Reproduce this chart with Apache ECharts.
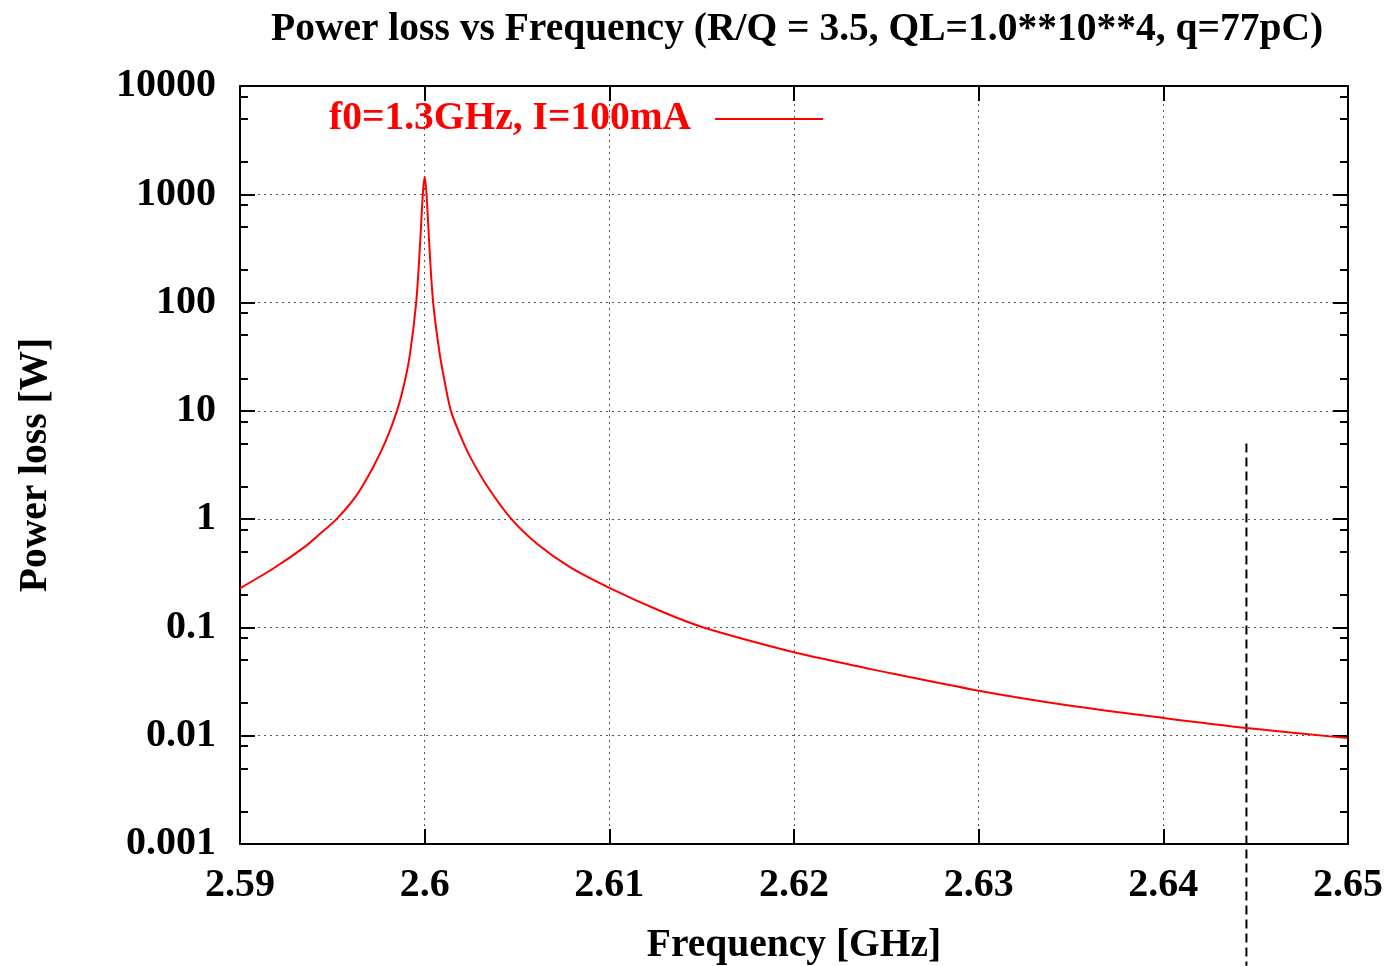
<!DOCTYPE html>
<html>
<head>
<meta charset="utf-8">
<script src="https://cdn.jsdelivr.net/npm/echarts@6/dist/echarts.min.js"></script>
<style>
html,body{margin:0;padding:0;background:#fff;}
#chart{width:1392px;height:966px;}
</style>
</head>
<body>
<div id="chart"></div>
<script>
// ---- data ----
const freq = [2.59, 2.5918, 2.5936, 2.5942, 2.5952, 2.5963, 2.5972, 2.5979, 2.5985, 2.5989, 2.5992, 2.59954, 2.59973, 2.5999,
  2.6, 2.6001, 2.60027, 2.60046, 2.60082, 2.6011, 2.60142, 2.6019, 2.60245, 2.6034, 2.6047, 2.6061, 2.60787,
  2.61, 2.6128, 2.6151, 2.62, 2.623, 2.6242, 2.63, 2.6348, 2.64, 2.6445, 2.65];
const powerLoss = [0.23, 0.35, 0.57, 0.70, 0.99, 1.65, 3.0, 5.3, 10, 18, 33, 100, 300, 1000,
  1450, 1000, 300, 100, 33, 18, 10, 6.1, 3.8, 2.0, 1.0, 0.59, 0.36,
  0.232, 0.141, 0.1, 0.059, 0.0455, 0.041, 0.026, 0.0191, 0.0146, 0.0118, 0.0095];
const markerFreq = [2.6445, 2.6445];
const markerPower = [5, 0.000075];
const xTickValues = [2.59, 2.6, 2.61, 2.62, 2.63, 2.64, 2.65];
const xTickLabels = ['2.59', '2.6', '2.61', '2.62', '2.63', '2.64', '2.65'];
const yTickValues = [0.001, 0.01, 0.1, 1, 10, 100, 1000, 10000];
const yTickLabels = ['0.001', '0.01', '0.1', '1', '10', '100', '1000', '10000'];
const yMinorTicks = [0.002, 0.005, 0.008, 0.02, 0.05, 0.08, 0.2, 0.5, 0.8, 2, 5, 8, 20, 50, 80, 200, 500, 800, 2000, 5000, 8000];
const seriesName = 'f0=1.3GHz, I=100mA';
const titleText = 'Power loss vs Frequency (R/Q = 3.5, QL=1.0**10**4, q=77pC)';

const FONT = '"Liberation Serif", "DejaVu Serif", serif';
const FS = 39.5;
const FS_TICK = 40;

function lookupLabel(values, labels) {
  return function (v) {
    for (let i = 0; i < values.length; i++) {
      if (Math.abs(values[i] - v) < Math.abs(values[i]) * 1e-6 + 1e-9) return labels[i];
    }
    return '';
  };
}

const curveData = freq.map((f, i) => [f, powerLoss[i]]);
const markerData = markerFreq.map((f, i) => [f, markerPower[i]]);

const chart = echarts.init(document.getElementById('chart'), null, {renderer: 'canvas'});

const logAxisBase = {type: 'log', logBase: 10, min: 0.001, max: 10000};

const option = {
  backgroundColor: '#ffffff',
  animation: false,
  title: {
    text: titleText,
    left: 266, top: 5,
    textStyle: {fontFamily: FONT, fontWeight: 'bold', fontSize: FS, color: '#000'}
  },
  legend: {
    data: [{name: seriesName, icon: 'rect'}],
    left: 324, top: 94,
    align: 'right',
    itemWidth: 108, itemHeight: 2,
    textStyle: {fontFamily: FONT, fontWeight: 'bold', fontSize: FS, color: '#ff0000', padding: [0, 19, 0, 0]},
    selectedMode: false
  },
  grid: {left: 240, right: 44, top: 86, bottom: 122, containLabel: false, outerBoundsMode: 'none'},
  xAxis: [
    {
      type: 'value', min: 2.59, max: 2.65, interval: 0.01, position: 'bottom',
      name: 'Frequency [GHz]', nameLocation: 'middle', nameGap: 82,
      nameTextStyle: {fontFamily: FONT, fontWeight: 'bold', fontSize: FS, color: '#000'},
      axisLine: {show: true, lineStyle: {color: '#000', width: 2}},
      axisTick: {show: true, inside: true, length: 15, lineStyle: {color: '#000', width: 2}},
      axisLabel: {formatter: lookupLabel(xTickValues, xTickLabels), fontFamily: FONT, fontWeight: 'bold', fontSize: FS_TICK, color: '#000', margin: 22},
      splitLine: {show: true, lineStyle: {color: '#555', width: 1, type: [2, 4]}}
    },
    {
      type: 'value', min: 2.59, max: 2.65, interval: 0.01, position: 'top',
      axisLine: {show: true, lineStyle: {color: '#000', width: 2}},
      axisTick: {show: true, inside: true, length: 15, lineStyle: {color: '#000', width: 2}},
      axisLabel: {show: false},
      splitLine: {show: false}
    }
  ],
  yAxis: [
    Object.assign({}, logAxisBase, {
      position: 'left',
      name: 'Power loss [W]', nameLocation: 'middle', nameGap: 184, nameRotate: 90,
      nameTextStyle: {fontFamily: FONT, fontWeight: 'bold', fontSize: FS, color: '#000'},
      axisLine: {show: true, lineStyle: {color: '#000', width: 2}},
      axisTick: {show: true, inside: true, length: 15, lineStyle: {color: '#000', width: 2}},
      axisLabel: {formatter: lookupLabel(yTickValues, yTickLabels), fontFamily: FONT, fontWeight: 'bold', fontSize: FS_TICK, color: '#000', margin: 24},
      splitLine: {show: true, lineStyle: {color: '#555', width: 1, type: [2, 4]}}
    }),
    Object.assign({}, logAxisBase, {
      position: 'right',
      axisLine: {show: true, lineStyle: {color: '#000', width: 2}},
      axisTick: {show: true, inside: true, length: 15, lineStyle: {color: '#000', width: 2}},
      axisLabel: {show: false},
      splitLine: {show: false}
    }),
    Object.assign({}, logAxisBase, {
      position: 'left', offset: 0,
      axisLine: {show: false},
      axisTick: {show: true, inside: true, length: 8, customValues: yMinorTicks, lineStyle: {color: '#000', width: 2}},
      axisLabel: {show: false},
      splitLine: {show: false}
    }),
    Object.assign({}, logAxisBase, {
      position: 'right', offset: 0,
      axisLine: {show: false},
      axisTick: {show: true, inside: true, length: 8, customValues: yMinorTicks, lineStyle: {color: '#000', width: 2}},
      axisLabel: {show: false},
      splitLine: {show: false}
    })
  ],
  series: [
    {
      name: seriesName, type: 'line', xAxisIndex: 0, yAxisIndex: 0,
      data: curveData, showSymbol: false, symbol: 'none',
      smooth: 0.3,
      lineStyle: {color: '#ff0000', width: 2},
      itemStyle: {color: '#ff0000'},
      z: 5
    },
    {
      name: 'marker', type: 'line', xAxisIndex: 0, yAxisIndex: 0,
      data: markerData, showSymbol: false, symbol: 'none', clip: false,
      lineStyle: {color: '#000', width: 2, type: [9, 5]},
      z: 4
    }
  ]
};
chart.setOption(option);
</script>
</body>
</html>
